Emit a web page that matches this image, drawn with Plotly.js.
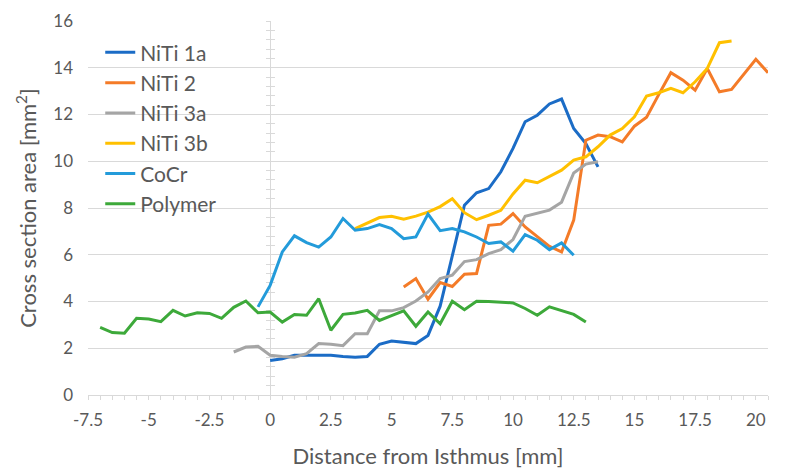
<!DOCTYPE html>
<html>
<head>
<meta charset="utf-8">
<script src="https://cdn.plot.ly/plotly-3.0.1.min.js"></script>
<style>html,body{margin:0;padding:0;background:#fff;}#chart{width:785px;height:476px;}</style>
</head>
<body>
<div id="chart"></div>
<script>
// Distance from isthmus [mm]
const xs = [-7,-6.5,-6,-5.5,-5,-4.5,-4,-3.5,-3,-2.5,-2,-1.5,-1,-0.5,0,0.5,1,1.5,2,2.5,3,3.5,4,4.5,5,5.5,6,6.5,7,7.5,8,8.5,9,9.5,10,10.5,11,11.5,12,12.5,13,13.5,14,14.5,15,15.5,16,16.5,17,17.5,18,18.5,19,19.5,20,20.5];

const seriesNames = ["NiTi 1a","NiTi 2","NiTi 3a","NiTi 3b","CoCr","Polymer"];
const seriesColors = ["#1B6CC6","#F47B28","#A5A5A5","#FFC000","#239BDA","#3DA93A"];

const N = null;
const niti1a = [N,N,N,N,N,N,N,N,N,N,N,N,N,N,
  1.48,1.55,1.70,1.70,1.70,1.70,1.65,1.62,1.65,2.17,2.31,2.27,2.20,2.55,3.80,5.95,8.12,8.65,8.83,9.55,10.55,11.69,11.97,12.45,12.66,11.40,10.76,9.76,
  N,N,N,N,N,N,N,N,N,N,N,N,N,N];
const niti2 = [N,N,N,N,N,N,N,N,N,N,N,N,N,N,N,N,N,N,N,N,N,N,N,N,N,
  4.62,4.98,4.10,4.81,4.64,5.17,5.20,7.26,7.31,7.76,7.19,6.78,6.36,6.12,7.48,10.90,11.12,11.05,10.83,11.50,11.88,12.85,13.79,13.47,13.04,13.97,12.97,13.07,13.73,14.36,13.79];
const niti3a = [N,N,N,N,N,N,N,N,N,N,N,
  1.84,2.05,2.08,1.70,1.65,1.62,1.77,2.20,2.17,2.11,2.62,2.62,3.60,3.60,3.74,4.02,4.41,4.98,5.13,5.71,5.79,6.05,6.22,6.65,7.65,7.79,7.91,8.25,9.50,9.88,9.98,
  N,N,N,N,N,N,N,N,N,N,N,N,N,N];
const niti3b = [N,N,N,N,N,N,N,N,N,N,N,N,N,N,N,N,N,N,N,N,N,
  7.12,7.36,7.59,7.65,7.52,7.65,7.82,8.06,8.40,7.80,7.50,7.69,7.90,8.60,9.19,9.08,9.35,9.62,10.05,10.19,10.62,11.12,11.40,11.90,12.79,12.93,13.12,12.93,13.40,13.97,15.07,15.14,
  N,N,N];
const cocr = [N,N,N,N,N,N,N,N,N,N,N,N,N,
  3.77,4.69,6.12,6.81,6.52,6.33,6.76,7.55,7.05,7.12,7.29,7.12,6.69,6.76,7.74,7.03,7.12,6.98,6.76,6.48,6.55,6.15,6.86,6.62,6.22,6.51,5.98,
  N,N,N,N,N,N,N,N,N,N,N,N,N,N,N,N];
const polymer = [2.89,2.67,2.64,3.28,3.25,3.14,3.62,3.38,3.52,3.49,3.28,3.75,4.02,3.52,3.55,3.12,3.44,3.41,4.12,2.77,3.45,3.51,3.62,3.19,3.40,3.60,2.94,3.55,3.05,4.01,3.65,4.01,4.00,3.98,3.94,3.70,3.41,3.77,3.62,3.45,3.12,
  N,N,N,N,N,N,N,N,N,N,N,N,N,N,N];

const seriesValues = [niti1a, niti2, niti3a, niti3b, cocr, polymer];

const xTickVals = [-7.5,-5,-2.5,0,2.5,5,7.5,10,12.5,15,17.5,20];
const yTickVals = [0,2,4,6,8,10,12,14,16];

const FONT = "Lato, 'Open Sans', sans-serif";
const TXT = "#595959";
const GRID = "#D9D9D9";

const traces = seriesNames.map((name, i) => ({
  type: "scatter", mode: "lines", name: name,
  x: xs, y: seriesValues[i],
  line: {color: seriesColors[i], width: 3},
  connectgaps: false, hoverinfo: "x+y+name"
}));
// carriers for the vertical axis drawn at x = 0
traces.push({type:"scatter", mode:"lines", x:[null], y:[null], yaxis:"y2", showlegend:false, hoverinfo:"skip"});
traces.push({type:"scatter", mode:"lines", x:[null], y:[null], yaxis:"y3", showlegend:false, hoverinfo:"skip"});

const xr = [-7.5, 20.5];
const zeroPos = (0 - xr[0]) / (xr[1] - xr[0]);

const crossAxis = (dir) => ({
  overlaying: "y", anchor: "free", position: zeroPos, side: "left",
  range: [0, 16], showgrid: false, zeroline: false, showticklabels: false,
  showline: true, linecolor: GRID, linewidth: 1, layer: "below traces",
  ticks: dir, ticklen: 4, tickwidth: 1, tickcolor: GRID,
  tickmode: "linear", tick0: 0, dtick: 0.4, fixedrange: true
});

const layout = {
  width: 785, height: 476,
  margin: {l: 88, r: 17, t: 21, b: 81.4},
  paper_bgcolor: "#fff", plot_bgcolor: "#fff",
  font: {family: FONT, color: TXT, size: 17},
  showlegend: true,
  legend: {
    x: 0.018, y: 0.97, xanchor: "left", yanchor: "top",
    bgcolor: "rgba(0,0,0,0)", font: {family: FONT, size: 21, color: TXT},
    itemwidth: 30
  },
  xaxis: {
    range: xr, tickmode: "array", tickvals: xTickVals, ticktext: xTickVals.map(String),
    showgrid: false, zeroline: false,
    showline: true, linecolor: GRID, linewidth: 1,
    ticks: "outside", ticklen: 4, tickcolor: GRID,
    minor: {tickmode: "linear", tick0: 0, dtick: 0.5, ticks: "outside", ticklen: 4, tickcolor: GRID, showgrid: false},
    tickfont: {family: FONT, size: 17, color: TXT},
    ticklabelstandoff: 6,
    title: {text: "Distance from Isthmus [mm]", font: {family: FONT, size: 22, color: TXT}, standoff: 19},
    automargin: false
  },
  yaxis: {
    range: [0, 16], tickmode: "array", tickvals: yTickVals, ticktext: yTickVals.map(String),
    showgrid: true, gridcolor: GRID, gridwidth: 1, zeroline: false, showline: false,
    ticks: "", tickfont: {family: FONT, size: 17, color: TXT},
    ticklabelstandoff: 14,
    title: {text: "Cross section area [mm<sup>2</sup>]", font: {family: FONT, size: 22, color: TXT}, standoff: 10},
    automargin: false
  },
  yaxis2: crossAxis("outside"),
  yaxis3: crossAxis("inside")
};

Plotly.newPlot("chart", traces, layout, {displayModeBar: false, staticPlot: true});
</script>
</body>
</html>
